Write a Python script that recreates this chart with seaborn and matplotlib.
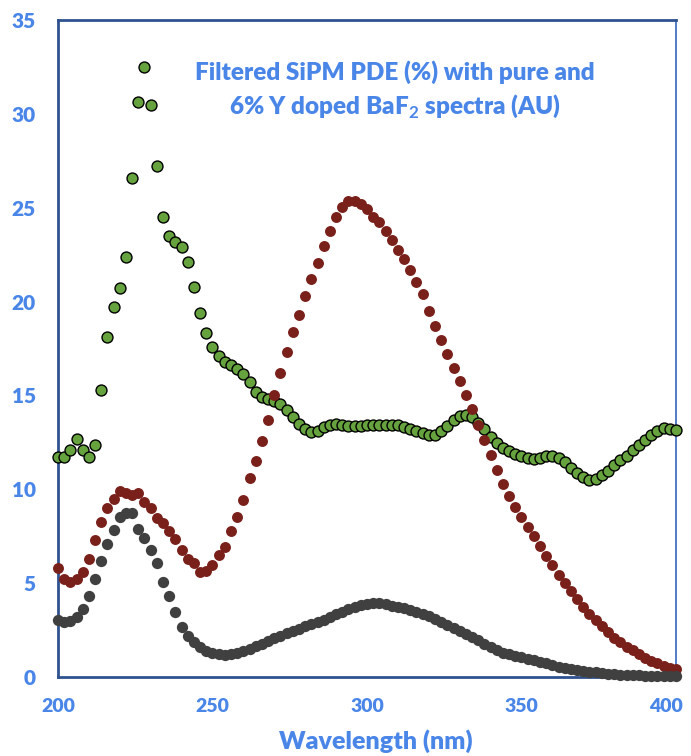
import matplotlib
matplotlib.use("Agg")
import matplotlib.pyplot as plt
import matplotlib.transforms as mtransforms
import numpy as np
import pandas as pd
import seaborn as sns

# wavelength grid (nm), one point every 2 nm
wavelength = np.arange(200, 401, 2)

# filtered SiPM PDE (%)
pde = [
    11.7, 11.7, 12.1, 12.7, 12.1, 11.7, 12.35, 15.3, 18.1, 19.7,
    20.7, 22.4, 26.6, 30.65, 32.5, 30.5, 27.2, 24.5, 23.5, 23.2,
    22.9, 22.1, 20.8, 19.4, 18.3, 17.6, 17.1, 16.8, 16.6, 16.4,
    16.15, 15.7, 15.2, 14.9, 14.8, 14.7, 14.55, 14.2, 13.85, 13.5,
    13.2, 13.05, 13.1, 13.3, 13.45, 13.5, 13.4, 13.35, 13.35, 13.35,
    13.4, 13.4, 13.4, 13.4, 13.45, 13.4, 13.3, 13.2, 13.1, 13.0,
    12.9, 12.9, 13.1, 13.35, 13.7, 13.9, 13.97, 13.85, 13.55, 13.2,
    12.8, 12.45, 12.2, 12.05, 11.9, 11.8, 11.65, 11.6, 11.65, 11.75,
    11.76, 11.65, 11.45, 11.15, 10.85, 10.65, 10.5, 10.55, 10.75, 11.0,
    11.3, 11.55, 11.8, 12.1, 12.35, 12.65, 12.9, 13.1, 13.25, 13.2,
    13.15,
]

# pure BaF2 spectrum (AU)
pure_baf2 = [
    5.8, 5.2, 5.05, 5.2, 5.6, 6.3, 7.3, 8.25, 9.0, 9.5,
    9.9, 9.8, 9.7, 9.8, 9.3, 9.0, 8.45, 8.2, 7.8, 7.35,
    6.75, 6.3, 6.05, 5.6, 5.65, 5.95, 6.5, 6.9, 7.8, 8.5,
    9.45, 10.6, 11.5, 12.55, 13.7, 15.0, 16.2, 17.3, 18.4, 19.3,
    20.3, 21.2, 22.05, 22.95, 23.75, 24.5, 25.05, 25.35, 25.35, 25.2,
    24.95, 24.5, 24.25, 23.75, 23.3, 22.75, 22.25, 21.7, 21.05, 20.4,
    19.5, 18.7, 17.95, 17.2, 16.45, 15.75, 15.0, 14.3, 13.45, 12.65,
    11.85, 11.05, 10.3, 9.65, 9.05, 8.5, 8.0, 7.5, 7.0, 6.45,
    5.95, 5.45, 5.0, 4.6, 4.15, 3.75, 3.38, 3.03, 2.72, 2.38,
    2.1, 1.87, 1.61, 1.42, 1.2, 1.03, 0.87, 0.72, 0.6, 0.48,
    0.4,
]

# 6% Y doped BaF2 spectrum (AU)
doped_baf2 = [
    3.05, 2.95, 3.0, 3.2, 3.6, 4.3, 5.2, 6.2, 7.1, 7.85,
    8.55, 8.75, 8.75, 7.9, 7.4, 6.75, 6.05, 5.05, 4.3, 3.45,
    2.65, 2.2, 1.85, 1.6, 1.4, 1.28, 1.22, 1.18, 1.2, 1.27,
    1.38, 1.5, 1.63, 1.77, 1.92, 2.06, 2.2, 2.35, 2.47, 2.58,
    2.7, 2.82, 2.93, 3.05, 3.18, 3.33, 3.48, 3.62, 3.75, 3.85,
    3.9, 3.93, 3.92, 3.87, 3.8, 3.72, 3.65, 3.58, 3.48, 3.38,
    3.25, 3.1, 2.93, 2.75, 2.6, 2.45, 2.3, 2.12, 1.95, 1.75,
    1.58, 1.42, 1.3, 1.2, 1.12, 1.05, 0.97, 0.9, 0.82, 0.73,
    0.63, 0.54, 0.46, 0.4, 0.35, 0.3, 0.27, 0.24, 0.21, 0.18,
    0.15, 0.13, 0.11, 0.1, 0.08, 0.07, 0.06, 0.05, 0.05, 0.04,
    0.04,
]

df = pd.DataFrame({
    "wavelength": wavelength,
    "pde": pde,
    "pure": pure_baf2,
    "doped": doped_baf2,
})

sns.set_style("white")
plt.rcParams["font.family"] = ["Lato", "DejaVu Sans"]
plt.rcParams["mathtext.fontset"] = "custom"
plt.rcParams["mathtext.rm"] = "Lato:bold"

BLUE_TEXT = "#4A86E8"
SPINE = "#2F528F"

fig = plt.figure(figsize=(6.91, 7.56), dpi=100)
ax = fig.add_axes([0.0839, 0.1045, 0.8944, 0.869])

sns.scatterplot(data=df, x="wavelength", y="pde", ax=ax, color="#66A33E",
                edgecolor="black", linewidth=1.0, s=62, clip_on=False, zorder=3)
sns.scatterplot(data=df, x="wavelength", y="pure", ax=ax, color="#7A201B",
                linewidth=0, s=62, clip_on=False, zorder=4)
sns.scatterplot(data=df, x="wavelength", y="doped", ax=ax, color="#404040",
                linewidth=0, s=66, clip_on=False, zorder=5)

ax.set_xlim(200, 400)
ax.set_ylim(0, 35)
ax.set_xticks([200, 250, 300, 350, 400])
ax.set_yticks([0, 5, 10, 15, 20, 25, 30, 35])

for side in ["left", "bottom", "top"]:
    ax.spines[side].set_color(SPINE)
    ax.spines[side].set_linewidth(2.0)
ax.spines["right"].set_color("#4472C4")
ax.spines["right"].set_linewidth(1.3)

ax.tick_params(axis="y", direction="in", length=5, width=2, color=SPINE,
               pad=16, labelsize=15, labelcolor=BLUE_TEXT)
ax.tick_params(axis="x", direction="in", length=5, width=2, color=SPINE,
               pad=15, labelsize=14, labelcolor=BLUE_TEXT)
for lbl in ax.get_xticklabels() + ax.get_yticklabels():
    lbl.set_fontweight("heavy")

# nudge the last x label so it stays inside the picture
last = ax.get_xticklabels()[-1]
last.set_transform(last.get_transform() + mtransforms.ScaledTranslation(-7 / 72, 0, fig.dpi_scale_trans))

ax.set_ylabel("")
ax.set_xlabel("Wavelength (nm)", fontsize=18, fontweight="heavy", color=BLUE_TEXT)
ax.xaxis.set_label_coords(0.515, -0.079)
ax.xaxis.label.set_verticalalignment("top")

ax.text(0.545, 0.893, "Filtered SiPM PDE (%) with pure and\n6% Y doped BaF$_2$ spectra (AU)",
        transform=ax.transAxes, ha="center", va="center", fontsize=17.5,
        fontweight="heavy", color=BLUE_TEXT, linespacing=1.4)

fig.savefig("out.png", dpi=100)
